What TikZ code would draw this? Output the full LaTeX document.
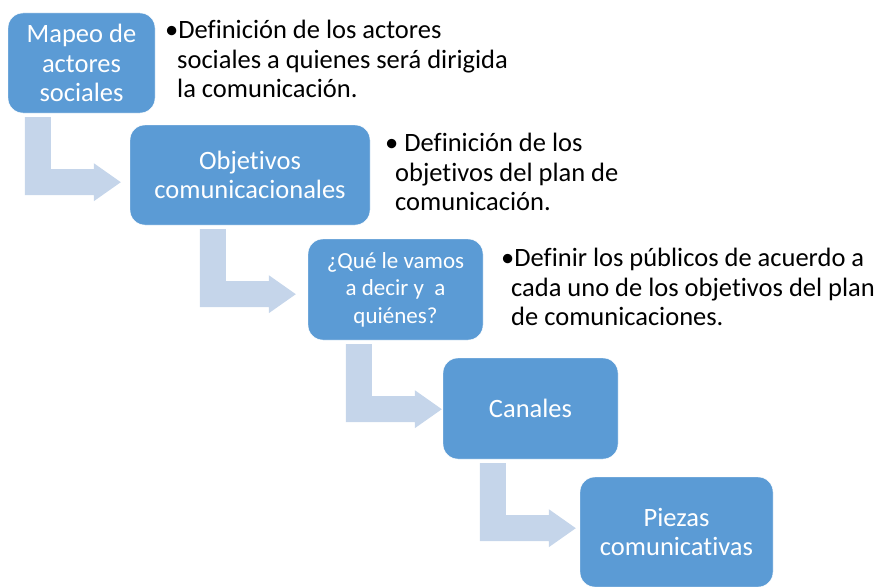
\documentclass[tikz,border=0pt]{standalone}
\usepackage{fontspec}
\setmainfont{Carlito}[Ligatures=NoCommon]
\usetikzlibrary{calc}
\definecolor{stepblue}{RGB}{91,155,213}
\definecolor{bendblue}{RGB}{197,213,234}

\begin{document}
\begin{tikzpicture}[x=1pt,y=-1pt, every node/.style={font=\fontsize{26.5}{29.5}\selectfont}]
    % Styles
    \tikzset{stepbox/.style  ={fill=stepblue,draw=white,rounded corners=15pt,text=white,align=center,inner sep=0pt}}
    \tikzset{bendarrow/.style={fill=bendblue}}
    \tikzset{note/.style     ={anchor=north west,align=left,inner sep=0pt,text=black}}

    \useasboundingbox (0,0) rectangle (880,586);

    % Steps
    \node[stepbox,minimum width=147,minimum height=100] (m1) at (81.5,63)  {Mapeo de\\actores\\sociales};
    \node[stepbox,minimum width=240,minimum height=100] (m2) at (250,175)   {Objetivos\\comunicacionales};
    \node[stepbox,minimum width=175,minimum height=101,font=\fontsize{23}{27.5}\selectfont]
         (m3) at (395.5,289.5) {¿Qué le vamos\\a decir y\ \ a\\quiénes?};
    \node[stepbox,minimum width=175,minimum height=101] (m4) at (530.5,408.5) {Canales};
    \node[stepbox,minimum width=193,minimum height=110] (m5) at (676.5,532)   {Piezas\\comunicativas};

    % Bent arrows between steps
    \foreach \a/\b/\dx in {m1/m2/17, m2/m3/70, m3/m4/38, m4/m5/37}
      \fill[bendarrow] ($(\a.south west)+(\dx,4)$) -- ++(26,0) -- ++(0,52) -- ++(43,0) -- ++(0,-6)
                  -- ++(27,19) -- ++(-27,19) -- ++(0,-6) -- ++(-69,0) -- cycle;

    % Notes
    \node[note] (t1) at (165,20)  {•Definición de los actores\\\hspace*{12pt}sociales a quienes será dirigida\\\hspace*{12pt}la comunicación.};
    \node[note] (t2) at (385,133) {• Definición de los\\\hspace*{10pt}objetivos del plan de\\\hspace*{10pt}comunicación.};
    \node[note] (t3) at (501,248) {•Definir los públicos de acuerdo a\\\hspace*{10pt}cada uno de los objetivos del plan\\\hspace*{10pt}de comunicaciones.};
\end{tikzpicture}
\end{document}
